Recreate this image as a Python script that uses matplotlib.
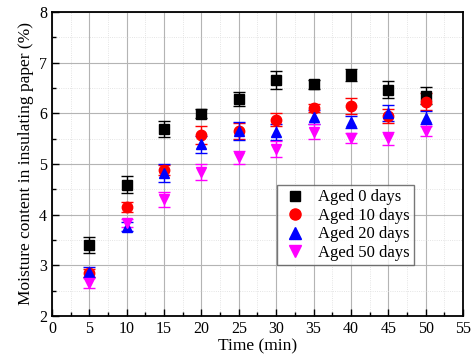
import numpy as np
import matplotlib
matplotlib.use('Agg')
import matplotlib.pyplot as plt
from matplotlib.ticker import MultipleLocator
from matplotlib.lines import Line2D

plt.rcParams['font.family'] = ['Liberation Serif', 'DejaVu Serif']
plt.rcParams['mathtext.fontset'] = 'stix'

# Data
time_min = [5, 10, 15, 20, 25, 30, 35, 40, 45, 50]

aged0 = [3.40, 4.59, 5.69, 5.99, 6.29, 6.66, 6.57, 6.76, 6.47, 6.35]
aged0_err = [0.15, 0.17, 0.15, 0.09, 0.14, 0.18, 0.09, 0.12, 0.17, 0.16]

aged10 = [2.84, 4.15, 4.88, 5.57, 5.65, 5.87, 6.10, 6.14, 5.95, 6.23]
aged10_err = [0.08, 0.09, 0.10, 0.17, 0.15, 0.13, 0.08, 0.16, 0.14, 0.17]

aged20 = [2.86, 3.76, 4.82, 5.39, 5.65, 5.63, 5.93, 5.83, 6.00, 5.91]
aged20_err = [0.10, 0.09, 0.17, 0.17, 0.18, 0.16, 0.14, 0.12, 0.16, 0.13]

aged50 = [2.65, 3.83, 4.30, 4.84, 5.13, 5.30, 5.64, 5.51, 5.51, 5.65]
aged50_err = [0.10, 0.08, 0.15, 0.15, 0.13, 0.16, 0.15, 0.10, 0.13, 0.10]

series = [
    ('Aged 0 days', aged0, aged0_err, 's', 'black', 6.5),
    ('Aged 10 days', aged10, aged10_err, 'o', 'red', 7.5),
    ('Aged 20 days', aged20, aged20_err, '^', 'blue', 7.5),
    ('Aged 50 days', aged50, aged50_err, 'v', 'magenta', 7.5),
]

fig = plt.figure(figsize=(4.72, 3.64), dpi=100)
ax = fig.add_axes([0.110, 0.132, 0.871, 0.835])

handles = []
for label, y, err, marker, color, ms in series:
    ax.errorbar(time_min, y, yerr=err, fmt=marker, color=color, ecolor=color,
                markersize=ms, elinewidth=1, capsize=4, capthick=1, zorder=3)
    handles.append(Line2D([], [], ls='none', marker=marker, color=color,
                          markersize=ms + 0.5, label=label))

ax.set_xlim(0, 55)
ax.set_ylim(2, 8)
ax.xaxis.set_major_locator(MultipleLocator(5))
ax.xaxis.set_minor_locator(MultipleLocator(2.5))
ax.yaxis.set_major_locator(MultipleLocator(1))
ax.yaxis.set_minor_locator(MultipleLocator(0.5))

ax.grid(True, which='major', color='#b4b4b4', lw=0.8)
ax.grid(True, which='minor', color='#dcdcdc', lw=0.6, ls=':')
ax.set_axisbelow(True)

ax.tick_params(which='both', direction='in', top=False, right=False, labelsize=11.5)
ax.tick_params(which='major', length=5, width=1)
ax.tick_params(which='minor', length=3, width=1)
for s in ax.spines.values():
    s.set_linewidth(1.3)

ax.set_xlabel('Time (min)', fontsize=12.5, labelpad=1)
ax.set_ylabel('Moisture content in insulating paper (%)', fontsize=12.5, labelpad=4)

leg = ax.legend(handles=handles, loc='upper left', bbox_to_anchor=(0.548, 0.43),
                fontsize=12, frameon=True, fancybox=False, edgecolor='#555555',
                borderpad=0.25, labelspacing=0.15, handletextpad=0.6,
                handlelength=1.6, borderaxespad=0)
leg.get_frame().set_linewidth(1)

fig.savefig('out.png', dpi=100)
